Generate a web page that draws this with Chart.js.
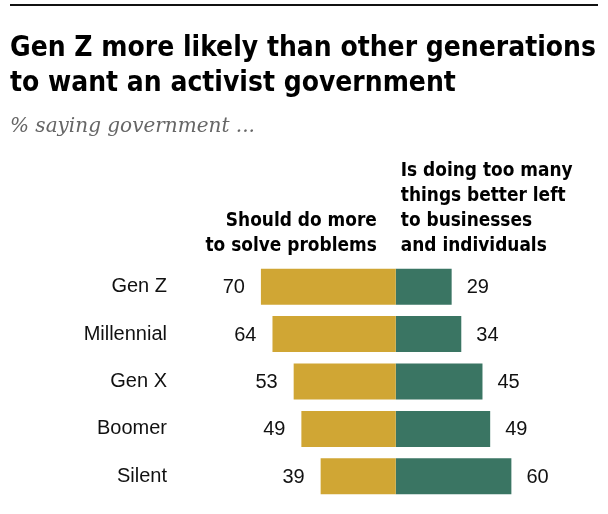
<!DOCTYPE html>
<html>
  <head>
    <meta charset="utf-8">
    <title>Gen Z and activist government</title>
    <script src="https://cdn.jsdelivr.net/npm/chart.js"></script>
    <style>
      body { margin: 0; background: #fff; }
      #wrap { width: 608px; height: 514px; position: relative; }
    </style>
  </head>
  <body>
    <div id="wrap"><canvas id="GenChart"></canvas></div>
    <script>
	// data
	const generations = ['Gen Z', 'Millennial', 'Gen X', 'Boomer', 'Silent'];
	const shouldDoMore = [70, 64, 53, 49, 39];
	const doingTooMuch = [29, 34, 45, 49, 60];

	const titleLines = ['Gen Z more likely than other generations', 'to want an activist government'];
	const subtitle = '% saying government ...';
	const leftHeader = ['Should do more', 'to solve problems'];
	const rightHeader = ['Is doing too many', 'things better left', 'to businesses', 'and individuals'];

	const GOLD = 'rgb(208, 166, 52)';
	const GREEN = 'rgb(58, 117, 99)';
	const NARROW = "'Liberation Sans Narrow', 'DejaVu Sans Condensed', 'Roboto Condensed', 'Liberation Sans', sans-serif";
	const SANS = "'Liberation Sans', Arial, sans-serif";
	const SERIF = "'DejaVu Serif', 'Liberation Serif', serif";

	// pick a font size so that text fills the given width
	function fitSize(ctx, text, style, family, width) {
		ctx.font = style + ' 100px ' + family;
		return 100 * width / ctx.measureText(text).width;
	}

	const headerPlugin = {
		id: 'header',
		afterDraw: function(chart) {
			const ctx = chart.ctx;
			ctx.save();

			// rule on top
			ctx.fillStyle = '#111';
			ctx.fillRect(10, 4, 588, 2);

			// title
			let size = Math.min(32, fitSize(ctx, titleLines[0], 'bold', NARROW, 586));
			ctx.font = 'bold ' + size + 'px ' + NARROW;
			ctx.fillStyle = '#000';
			ctx.textAlign = 'left';
			ctx.textBaseline = 'alphabetic';
			ctx.fillText(titleLines[0], 10, 56);
			ctx.fillText(titleLines[1], 10, 91);

			// subtitle
			size = Math.min(21, fitSize(ctx, subtitle, 'italic', SERIF, 245));
			ctx.font = 'italic ' + size + 'px ' + SERIF;
			ctx.fillStyle = '#666';
			ctx.fillText(subtitle, 10, 132);

			// column headers
			size = Math.min(20, fitSize(ctx, rightHeader[0], 'bold', NARROW, 172));
			ctx.font = 'bold ' + size + 'px ' + NARROW;
			ctx.fillStyle = '#000';
			const center = chart.scales.x.getPixelForValue(0);
			ctx.textAlign = 'right';
			leftHeader.forEach(function(line, i) {
				ctx.fillText(line, center - 19, 226 + i * 25);
			});
			ctx.textAlign = 'left';
			rightHeader.forEach(function(line, i) {
				ctx.fillText(line, center + 5, 176 + i * 25);
			});
			ctx.restore();
		}
	};

	const valuePlugin = {
		id: 'values',
		afterDatasetsDraw: function(chart) {
			const ctx = chart.ctx;
			ctx.save();
			ctx.font = '20px ' + SANS;
			ctx.fillStyle = '#111';
			ctx.textBaseline = 'middle';
			chart.getDatasetMeta(0).data.forEach(function(bar, i) {
				ctx.textAlign = 'right';
				ctx.fillText(shouldDoMore[i], bar.x - 16, bar.y + 1);
			});
			chart.getDatasetMeta(1).data.forEach(function(bar, i) {
				ctx.textAlign = 'left';
				ctx.fillText(doingTooMuch[i], bar.x + 15, bar.y + 1);
			});
			ctx.restore();
		}
	};

	const data = {
		labels : generations,
		datasets : [ {
			label : 'Should do more to solve problems',
			backgroundColor : GOLD,
			data : shouldDoMore.map(function(v) { return -v; })
		}, {
			label : 'Is doing too many things better left to businesses and individuals',
			backgroundColor : GREEN,
			data : doingTooMuch
		}]};

	const config = {
		type : 'bar',
		data : data,
		plugins : [headerPlugin, valuePlugin],
		options : {
			indexAxis : 'y',
			maintainAspectRatio : false,
			animation : false,
			layout : { padding : { top : 263, bottom : 14, left : 0, right : 8 } },
			datasets : { bar : { categoryPercentage : 1, barPercentage : 0.76, borderWidth : 0 } },
			plugins : { legend : { display : false }, tooltip : { enabled : false } },
			scales : {
				x : { stacked : true, min : -112, max : 106, display : false },
				y : {
					stacked : true,
					grid : { display : false, drawTicks : false },
					border : { display : false },
					ticks : { padding : 13, color : '#111', font : { family : SANS, size : 20 } },
					afterFit : function(scale) {
						scale.width = 180;
						scale.paddingTop = 0;
						scale.paddingBottom = 0;
					}
				}
			}
		}
	};
	const GenChart = new Chart(document.getElementById('GenChart'), config);
    </script>
  </body>
</html>
